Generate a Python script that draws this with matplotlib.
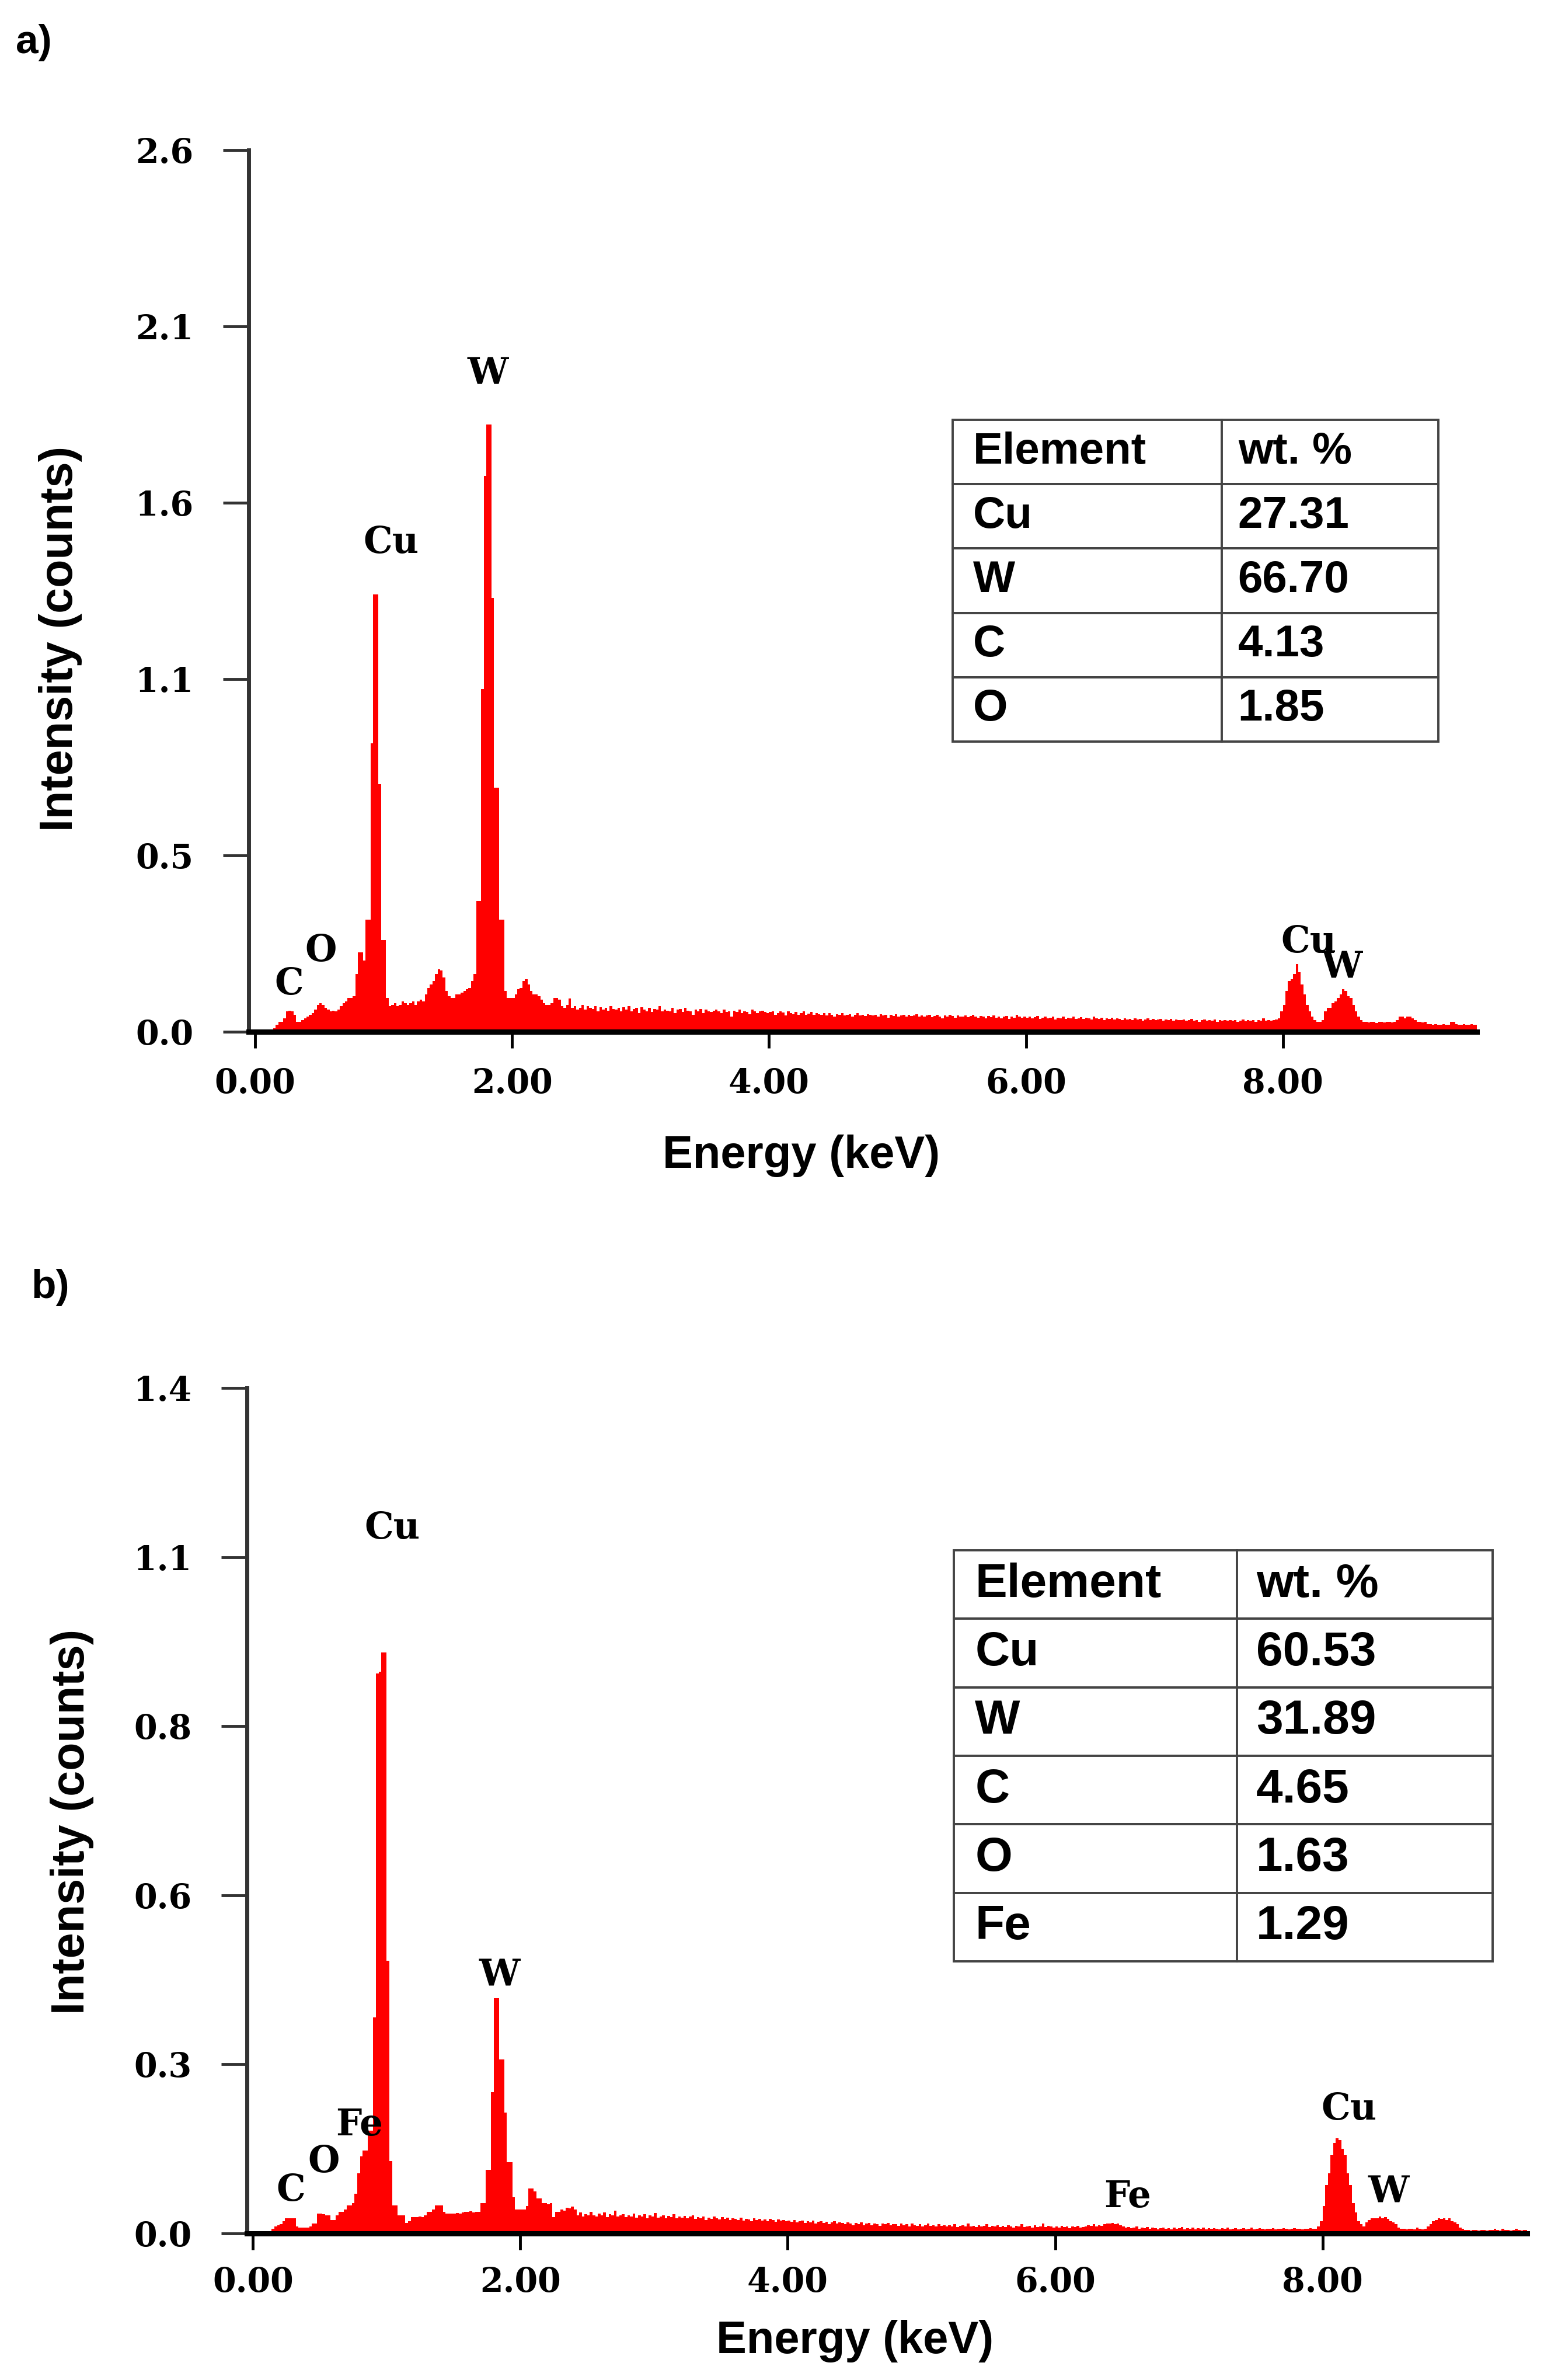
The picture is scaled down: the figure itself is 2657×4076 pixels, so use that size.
import numpy as np
import matplotlib
matplotlib.use("Agg")
import matplotlib.pyplot as plt

# ---------------- data ----------------
CHANNEL_KEV = 0.02  # spectrum channel width (keV)

# panel a) counts per channel (0.00 keV upward, 20 channels = 0.4 keV per row)
counts_a = [
    0, 0, 0, 0, 0, 0, 0, 0.01, 0.02, 0.03, 0.03, 0.04, 0.06, 0.062, 0.06, 0.05, 0.03, 0.03, 0.035, 0.04,
    0.045, 0.05, 0.055, 0.065, 0.08, 0.085, 0.08, 0.07, 0.065, 0.06, 0.062, 0.06, 0.065, 0.075, 0.085, 0.09, 0.1, 0.1, 0.105, 0.17,
    0.235, 0.235, 0.21, 0.33, 0.33, 0.85, 1.29, 1.29, 0.73, 0.27, 0.27, 0.1, 0.075, 0.08, 0.085, 0.075, 0.08, 0.09, 0.085, 0.08,
    0.085, 0.09, 0.08, 0.09, 0.095, 0.09, 0.11, 0.13, 0.14, 0.15, 0.17, 0.185, 0.18, 0.16, 0.12, 0.105, 0.1, 0.1, 0.11, 0.11,
    0.115, 0.12, 0.125, 0.13, 0.15, 0.17, 0.385, 0.385, 1.01, 1.64, 1.79, 1.79, 1.28, 0.72, 0.72, 0.33, 0.33, 0.12, 0.1, 0.1,
    0.1, 0.11, 0.125, 0.13, 0.15, 0.155, 0.14, 0.12, 0.11, 0.11, 0.105, 0.095, 0.085, 0.08, 0.08, 0.085, 0.1, 0.1, 0.095, 0.075,
    0.07, 0.08, 0.098, 0.07, 0.075, 0.065, 0.07, 0.08, 0.065, 0.075, 0.07, 0.068, 0.075, 0.06, 0.072, 0.065, 0.07, 0.062, 0.075, 0.068,
    0.065, 0.07, 0.06, 0.072, 0.065, 0.075, 0.06, 0.068, 0.07, 0.055, 0.072, 0.065, 0.06, 0.07, 0.058, 0.068, 0.065, 0.075, 0.06, 0.065,
    0.062, 0.06, 0.07, 0.055, 0.065, 0.068, 0.058, 0.07, 0.062, 0.06, 0.05, 0.065, 0.06, 0.068, 0.055, 0.065, 0.06, 0.058, 0.062, 0.065,
    0.06, 0.055, 0.065, 0.058, 0.06, 0.045, 0.062, 0.058, 0.065, 0.055, 0.06, 0.058, 0.052, 0.065, 0.06, 0.055, 0.06, 0.062, 0.058, 0.055,
    0.058, 0.06, 0.05, 0.055, 0.06, 0.057, 0.048, 0.06, 0.055, 0.052, 0.058, 0.05, 0.055, 0.06, 0.05, 0.053, 0.058, 0.05, 0.055, 0.052,
    0.05, 0.055, 0.048, 0.055, 0.05, 0.045, 0.052, 0.05, 0.055, 0.048, 0.05, 0.052, 0.045, 0.05, 0.055, 0.048, 0.05, 0.047, 0.052, 0.05,
    0.048, 0.05, 0.045, 0.052, 0.048, 0.05, 0.042, 0.05, 0.047, 0.052, 0.045, 0.048, 0.05, 0.044, 0.05, 0.046, 0.048, 0.052, 0.045, 0.048,
    0.045, 0.048, 0.05, 0.043, 0.046, 0.05, 0.045, 0.04, 0.048, 0.045, 0.05, 0.046, 0.042, 0.048, 0.045, 0.044, 0.048, 0.043, 0.046, 0.05,
    0.045, 0.042, 0.047, 0.044, 0.04, 0.046, 0.043, 0.048, 0.042, 0.045, 0.04, 0.044, 0.046, 0.038, 0.045, 0.042, 0.05, 0.044, 0.041, 0.045,
    0.042, 0.045, 0.04, 0.043, 0.046, 0.038, 0.042, 0.045, 0.04, 0.042, 0.044, 0.036, 0.042, 0.04, 0.045, 0.038, 0.042, 0.04, 0.044, 0.038,
    0.04, 0.043, 0.038, 0.042, 0.04, 0.036, 0.044, 0.04, 0.038, 0.042, 0.035, 0.04, 0.038, 0.042, 0.036, 0.04, 0.038, 0.035, 0.04, 0.037,
    0.038, 0.035, 0.04, 0.036, 0.038, 0.033, 0.037, 0.04, 0.035, 0.038, 0.034, 0.036, 0.038, 0.032, 0.036, 0.035, 0.038, 0.033, 0.036, 0.035,
    0.034, 0.036, 0.032, 0.035, 0.038, 0.033, 0.035, 0.03, 0.034, 0.036, 0.032, 0.035, 0.033, 0.036, 0.03, 0.034, 0.032, 0.035, 0.033, 0.034,
    0.032, 0.035, 0.03, 0.033, 0.036, 0.031, 0.034, 0.032, 0.035, 0.03, 0.034, 0.032, 0.04, 0.033, 0.035, 0.032, 0.034, 0.036, 0.04, 0.06,
    0.08, 0.12, 0.15, 0.155, 0.17, 0.2, 0.175, 0.14, 0.11, 0.08, 0.06, 0.045, 0.035, 0.03, 0.03, 0.035, 0.06, 0.07, 0.07, 0.085,
    0.09, 0.1, 0.11, 0.125, 0.12, 0.105, 0.1, 0.08, 0.06, 0.045, 0.035, 0.03, 0.03, 0.028, 0.03, 0.03, 0.025, 0.03, 0.03, 0.028,
    0.03, 0.03, 0.028, 0.03, 0.035, 0.045, 0.045, 0.04, 0.045, 0.045, 0.04, 0.035, 0.03, 0.03, 0.028, 0.03, 0.022, 0.022, 0.021, 0.022,
    0.02, 0.021, 0.022, 0.02, 0.021, 0.03, 0.03, 0.022, 0.021, 0.02, 0.022, 0.021, 0.02, 0.022, 0.021, 0.02, 0.021, 0.022, 0.02, 0.02,
]

# panel b) counts per channel
counts_b = [
    0, 0, 0, 0, 0, 0, 0.003, 0.008, 0.012, 0.014, 0.015, 0.02, 0.025, 0.025, 0.025, 0.025, 0.012, 0.01, 0.01, 0.01,
    0.01, 0.012, 0.016, 0.016, 0.033, 0.033, 0.032, 0.03, 0.03, 0.022, 0.022, 0.03, 0.036, 0.036, 0.04, 0.046, 0.046, 0.05, 0.066, 0.1,
    0.128, 0.137, 0.137, 0.17, 0.17, 0.358, 0.927, 0.93, 0.962, 0.962, 0.452, 0.12, 0.046, 0.046, 0.03, 0.03, 0.03, 0.017, 0.02, 0.027,
    0.027, 0.027, 0.028, 0.027, 0.03, 0.036, 0.036, 0.04, 0.046, 0.046, 0.046, 0.036, 0.033, 0.033, 0.033, 0.033, 0.034, 0.033, 0.035, 0.036,
    0.036, 0.037, 0.035, 0.036, 0.036, 0.05, 0.05, 0.105, 0.105, 0.234, 0.39, 0.39, 0.288, 0.288, 0.2, 0.118, 0.118, 0.06, 0.04, 0.04,
    0.04, 0.04, 0.045, 0.074, 0.074, 0.07, 0.058, 0.058, 0.05, 0.05, 0.048, 0.05, 0.027, 0.036, 0.036, 0.04, 0.038, 0.043, 0.042, 0.044,
    0.04, 0.03, 0.035, 0.028, 0.032, 0.03, 0.036, 0.03, 0.028, 0.033, 0.03, 0.035, 0.027, 0.032, 0.03, 0.038, 0.028, 0.03, 0.032, 0.027,
    0.03, 0.028, 0.033, 0.026, 0.03, 0.028, 0.032, 0.025, 0.03, 0.028, 0.034, 0.026, 0.028, 0.03, 0.025, 0.029, 0.027, 0.032, 0.025, 0.028,
    0.026, 0.029, 0.025, 0.028, 0.03, 0.024, 0.027, 0.025, 0.028, 0.022, 0.026, 0.024, 0.028, 0.025, 0.023, 0.027, 0.024, 0.026, 0.022, 0.025,
    0.024, 0.022, 0.026, 0.021, 0.024, 0.023, 0.02, 0.025, 0.022, 0.024, 0.021, 0.023, 0.02, 0.024, 0.022, 0.019, 0.023, 0.021, 0.022, 0.02,
    0.021, 0.019, 0.022, 0.018, 0.02, 0.021, 0.017, 0.02, 0.018, 0.021, 0.016, 0.019, 0.02, 0.017, 0.019, 0.015, 0.018, 0.02, 0.016, 0.018,
    0.017, 0.015, 0.018, 0.016, 0.014, 0.017, 0.015, 0.018, 0.014, 0.016, 0.017, 0.014, 0.016, 0.015, 0.013, 0.016, 0.015, 0.017, 0.014, 0.015,
    0.015, 0.013, 0.016, 0.014, 0.015, 0.012, 0.016, 0.014, 0.013, 0.015, 0.012, 0.014, 0.016, 0.013, 0.014, 0.012, 0.015, 0.013, 0.014, 0.012,
    0.014, 0.012, 0.015, 0.011, 0.013, 0.014, 0.012, 0.016, 0.012, 0.013, 0.011, 0.014, 0.012, 0.013, 0.015, 0.011, 0.013, 0.012, 0.014, 0.011,
    0.013, 0.011, 0.014, 0.012, 0.01, 0.013, 0.012, 0.015, 0.011, 0.012, 0.013, 0.01, 0.014, 0.011, 0.012, 0.016, 0.011, 0.013, 0.012, 0.01,
    0.012, 0.01, 0.013, 0.011, 0.012, 0.009, 0.012, 0.011, 0.013, 0.01, 0.011, 0.012, 0.014, 0.013, 0.015, 0.012, 0.014, 0.013, 0.015, 0.016,
    0.016, 0.017, 0.015, 0.016, 0.014, 0.012, 0.01, 0.011, 0.009, 0.01, 0.012, 0.008, 0.01, 0.009, 0.011, 0.008, 0.01, 0.009, 0.007, 0.009,
    0.01, 0.008, 0.009, 0.007, 0.01, 0.008, 0.009, 0.011, 0.007, 0.009, 0.008, 0.01, 0.007, 0.009, 0.008, 0.01, 0.007, 0.009, 0.008, 0.009,
    0.008, 0.007, 0.009, 0.008, 0.01, 0.007, 0.008, 0.009, 0.007, 0.008, 0.009, 0.007, 0.008, 0.01, 0.007, 0.008, 0.009, 0.008, 0.007, 0.008,
    0.008, 0.009, 0.007, 0.008, 0.008, 0.009, 0.008, 0.007, 0.008, 0.009, 0.008, 0.008, 0.007, 0.008, 0.008, 0.009, 0.008, 0.008, 0.012, 0.02,
    0.045, 0.08, 0.1, 0.13, 0.15, 0.158, 0.155, 0.14, 0.13, 0.1, 0.08, 0.05, 0.035, 0.02, 0.015, 0.012, 0.018, 0.022, 0.025, 0.025,
    0.025, 0.028, 0.025, 0.027, 0.024, 0.02, 0.018, 0.015, 0.01, 0.008, 0.008, 0.007, 0.008, 0.008, 0.007, 0.01, 0.008, 0.007, 0.008, 0.012,
    0.015, 0.02, 0.022, 0.025, 0.024, 0.025, 0.022, 0.025, 0.02, 0.018, 0.015, 0.01, 0.008, 0.006, 0.006, 0.005, 0.006, 0.006, 0.005, 0.006,
    0.006, 0.005, 0.006, 0.006, 0.008, 0.006, 0.005, 0.008, 0.006, 0.006, 0.005, 0.006, 0.008, 0.006, 0.005, 0.006, 0.006, 0.005, 0.006, 0.006,
]

x_ticks = [0, 2, 4, 6, 8]
x_tick_labels = ["0.00", "2.00", "4.00", "6.00", "8.00"]
y_tick_labels_a = ["0.0", "0.5", "1.1", "1.6", "2.1", "2.6"]
y_tick_labels_b = ["0.0", "0.3", "0.6", "0.8", "1.1", "1.4"]
y_max_a = 2.6
y_max_b = 1.4

# peak labels: (text, energy keV, height)
peaks_a = [("C", 0.264, 0.141), ("O", 0.513, 0.239), ("Cu", 1.059, 1.442),
           ("W", 1.813, 1.939), ("Cu", 8.20, 0.265), ("W", 8.46, 0.188)]
peaks_b = [("C", 0.285, 0.071), ("O", 0.531, 0.118), ("Fe", 0.796, 0.179),
           ("Cu", 1.042, 1.167), ("W", 1.844, 0.426), ("Fe", 6.54, 0.06),
           ("Cu", 8.197, 0.205), ("W", 8.495, 0.068)]

table_header = ["Element", "wt. %"]
elements_a = ["Cu", "W", "C", "O"]
wt_a = ["27.31", "66.70", "4.13", "1.85"]
elements_b = ["Cu", "W", "C", "O", "Fe"]
wt_b = ["60.53", "31.89", "4.65", "1.63", "1.29"]

# ---------------- figure ----------------
W, H = 2657, 4076
DPI = 100
fig = plt.figure(figsize=(W / DPI, H / DPI), dpi=DPI)
fig.patch.set_facecolor("white")

SERIF = "DejaVu Serif"
SANS = "Liberation Sans"


def px_rect(left, right, top, bottom):
    return [left / W, 1 - bottom / H, (right - left) / W, (bottom - top) / H]


def draw_panel(rect, counts, xlim, ymax, ylabels, peaks, elements, wts,
               table_bbox, col_widths, table_fs, xpad):
    ax = fig.add_axes(rect)
    edges = np.arange(len(counts) + 1) * CHANNEL_KEV
    ax.stairs(counts, edges, fill=True, color="#ff0000", linewidth=0, zorder=2)
    ax.set_xlim(*xlim)
    ax.set_ylim(0, ymax)
    for s in ("top", "right"):
        ax.spines[s].set_visible(False)
    ax.spines["left"].set_color("#333333")
    ax.spines["left"].set_linewidth(5)
    ax.spines["bottom"].set_color("#000000")
    ax.spines["bottom"].set_linewidth(6.5)
    ax.spines["bottom"].set_zorder(3)

    ax.set_xticks(x_ticks)
    ax.set_xticklabels(x_tick_labels, fontfamily=SERIF, fontweight="bold", fontsize=41)
    ax.set_yticks(np.linspace(0, ymax, len(ylabels)))
    ax.set_yticklabels(ylabels, fontfamily=SERIF, fontweight="bold", fontsize=41)
    ax.tick_params(axis="y", direction="out", length=32, width=3.5, pad=36,
                   color="#333333")
    ax.tick_params(axis="x", direction="out", length=20, width=3.5, pad=xpad,
                   color="#000000")

    for txt, xe, yv in peaks:
        ax.text(xe, yv, txt, ha="center", va="center", fontfamily=SERIF,
                fontweight="bold", fontsize=45, color="black", zorder=4)

    cell_text = [table_header] + [[e, v] for e, v in zip(elements, wts)]
    tbl = ax.table(cellText=cell_text, cellLoc="left", colWidths=col_widths,
                   bbox=table_bbox, zorder=5)
    tbl.auto_set_font_size(False)
    for (r, c), cell in tbl.get_celld().items():
        cell.set_edgecolor("#444444")
        cell.set_linewidth(2.8)
        cell.set_facecolor("white")
        cell.PAD = 0.075
        cell.get_text().set_fontsize(table_fs)
        cell.get_text().set_fontweight("bold")
        cell.get_text().set_fontfamily(SANS)
    return ax


# panel a
draw_panel(px_rect(426, 2530, 257, 1767), counts_a, (-0.05, 9.51), y_max_a,
           y_tick_labels_a, peaks_a, elements_a, wt_a,
           [0.5732, 0.3291, 0.3954, 0.3649], [0.554, 0.446], 55, 24)

# panel b
draw_panel(px_rect(423, 2616, 2377, 3825), counts_b, (-0.045, 9.53), y_max_b,
           y_tick_labels_b, peaks_b, elements_b, wt_b,
           [0.5522, 0.3218, 0.4209, 0.4862], [0.5255, 0.4745], 59, 20)

# axis titles and panel letters
fig.text(104 / W, 1 - 1094 / H, "Intensity (counts)", rotation=90, ha="center",
         va="center", fontfamily=SANS, fontweight="bold", fontsize=57)
fig.text(1373 / W, 1 - 1980 / H, "Energy (keV)", ha="center", va="center",
         fontfamily=SANS, fontweight="bold", fontsize=56)
fig.text(124 / W, 1 - 3120 / H, "Intensity (counts)", rotation=90, ha="center",
         va="center", fontfamily=SANS, fontweight="bold", fontsize=57)
fig.text(1465 / W, 1 - 4009 / H, "Energy (keV)", ha="center", va="center",
         fontfamily=SANS, fontweight="bold", fontsize=56)
fig.text(58 / W, 1 - 73 / H, "a)", ha="center", va="center",
         fontfamily=SANS, fontweight="bold", fontsize=50)
fig.text(86 / W, 1 - 2205 / H, "b)", ha="center", va="center",
         fontfamily=SANS, fontweight="bold", fontsize=50)

fig.savefig("out.png", dpi=DPI, facecolor="white")
